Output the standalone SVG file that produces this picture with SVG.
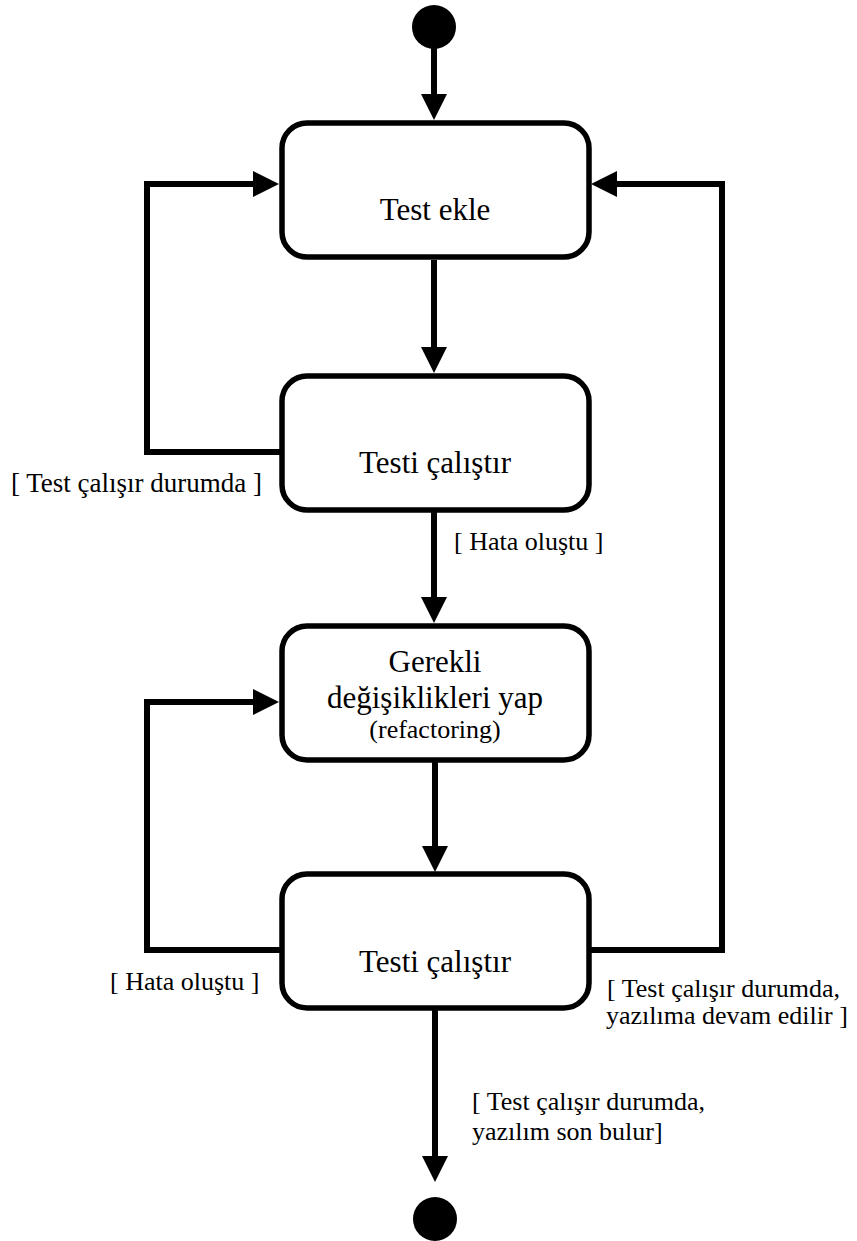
<svg xmlns="http://www.w3.org/2000/svg" width="857" height="1241" viewBox="0 0 857 1241">
<style>
.box{fill:#fff;stroke:#000;stroke-width:5.5}
.conn{fill:none;stroke:#000;stroke-width:6;stroke-linejoin:miter}
.t{font-family:"Liberation Serif","Times New Roman",serif;font-size:31px;fill:#000;text-anchor:middle}
.l{font-family:"Liberation Serif","Times New Roman",serif;font-size:26px;fill:#000}
.dot{fill:#000}
</style>
<defs>
<marker id="ah" viewBox="0 0 26 26" refX="16" refY="13" markerWidth="26" markerHeight="26" markerUnits="userSpaceOnUse" orient="auto">
<path d="M0,0 L26,13 L0,26 Z" fill="#000"/>
</marker>
</defs>
<g id="connectors">
<path class="conn" d="M434,48 L434,110" marker-end="url(#ah)"/>
<path class="conn" d="M434,260 L434,363" marker-end="url(#ah)"/>
<path class="conn" d="M434,512 L434,613" marker-end="url(#ah)"/>
<path class="conn" d="M435,762 L435,862" marker-end="url(#ah)"/>
<path class="conn" d="M435,1008 L435,1172" marker-end="url(#ah)"/>
<path class="conn" d="M280,452 L147,452 L147,184 L269,184" marker-end="url(#ah)"/>
<path class="conn" d="M280,950 L147,950 L147,702 L269,702" marker-end="url(#ah)"/>
<path class="conn" d="M590,950 L722,950 L722,184 L601,184" marker-end="url(#ah)"/>
<text class="l" x="11" y="492" style="font-size:27px">[ Test çalışır durumda ]</text>
<text class="l" x="454" y="550">[ Hata oluştu ]</text>
<text class="l" x="110" y="990">[ Hata oluştu ]</text>
<text class="l" x="607" y="997">[ Test çalışır durumda,</text>
<text class="l" x="606" y="1024">yazılıma devam edilir ]</text>
<text class="l" x="472" y="1110">[ Test çalışır durumda,</text>
<text class="l" x="472" y="1140">yazılım son bulur]</text>
</g>
<g id="start"><circle class="dot" cx="434" cy="27" r="22"/></g>
<g id="test-ekle">
<rect class="box" x="282" y="123" width="307" height="134" rx="25"/>
<text class="t" x="435" y="220">Test ekle</text>
</g>
<g id="testi-calistir-1">
<rect class="box" x="282" y="376" width="307" height="134" rx="25"/>
<text class="t" x="435" y="473">Testi çalıştır</text>
</g>
<g id="degisiklik">
<rect class="box" x="282" y="626" width="307" height="134" rx="25"/>
<text class="t" x="435" y="672">Gerekli</text>
<text class="t" x="435" y="708">değişiklikleri yap</text>
<text class="t" x="435" y="738" style="font-size:26px">(refactoring)</text>
</g>
<g id="testi-calistir-2">
<rect class="box" x="282" y="874" width="307" height="134" rx="25"/>
<text class="t" x="435" y="972">Testi çalıştır</text>
</g>
<g id="end"><circle class="dot" cx="435" cy="1219" r="22"/></g>
</svg>
